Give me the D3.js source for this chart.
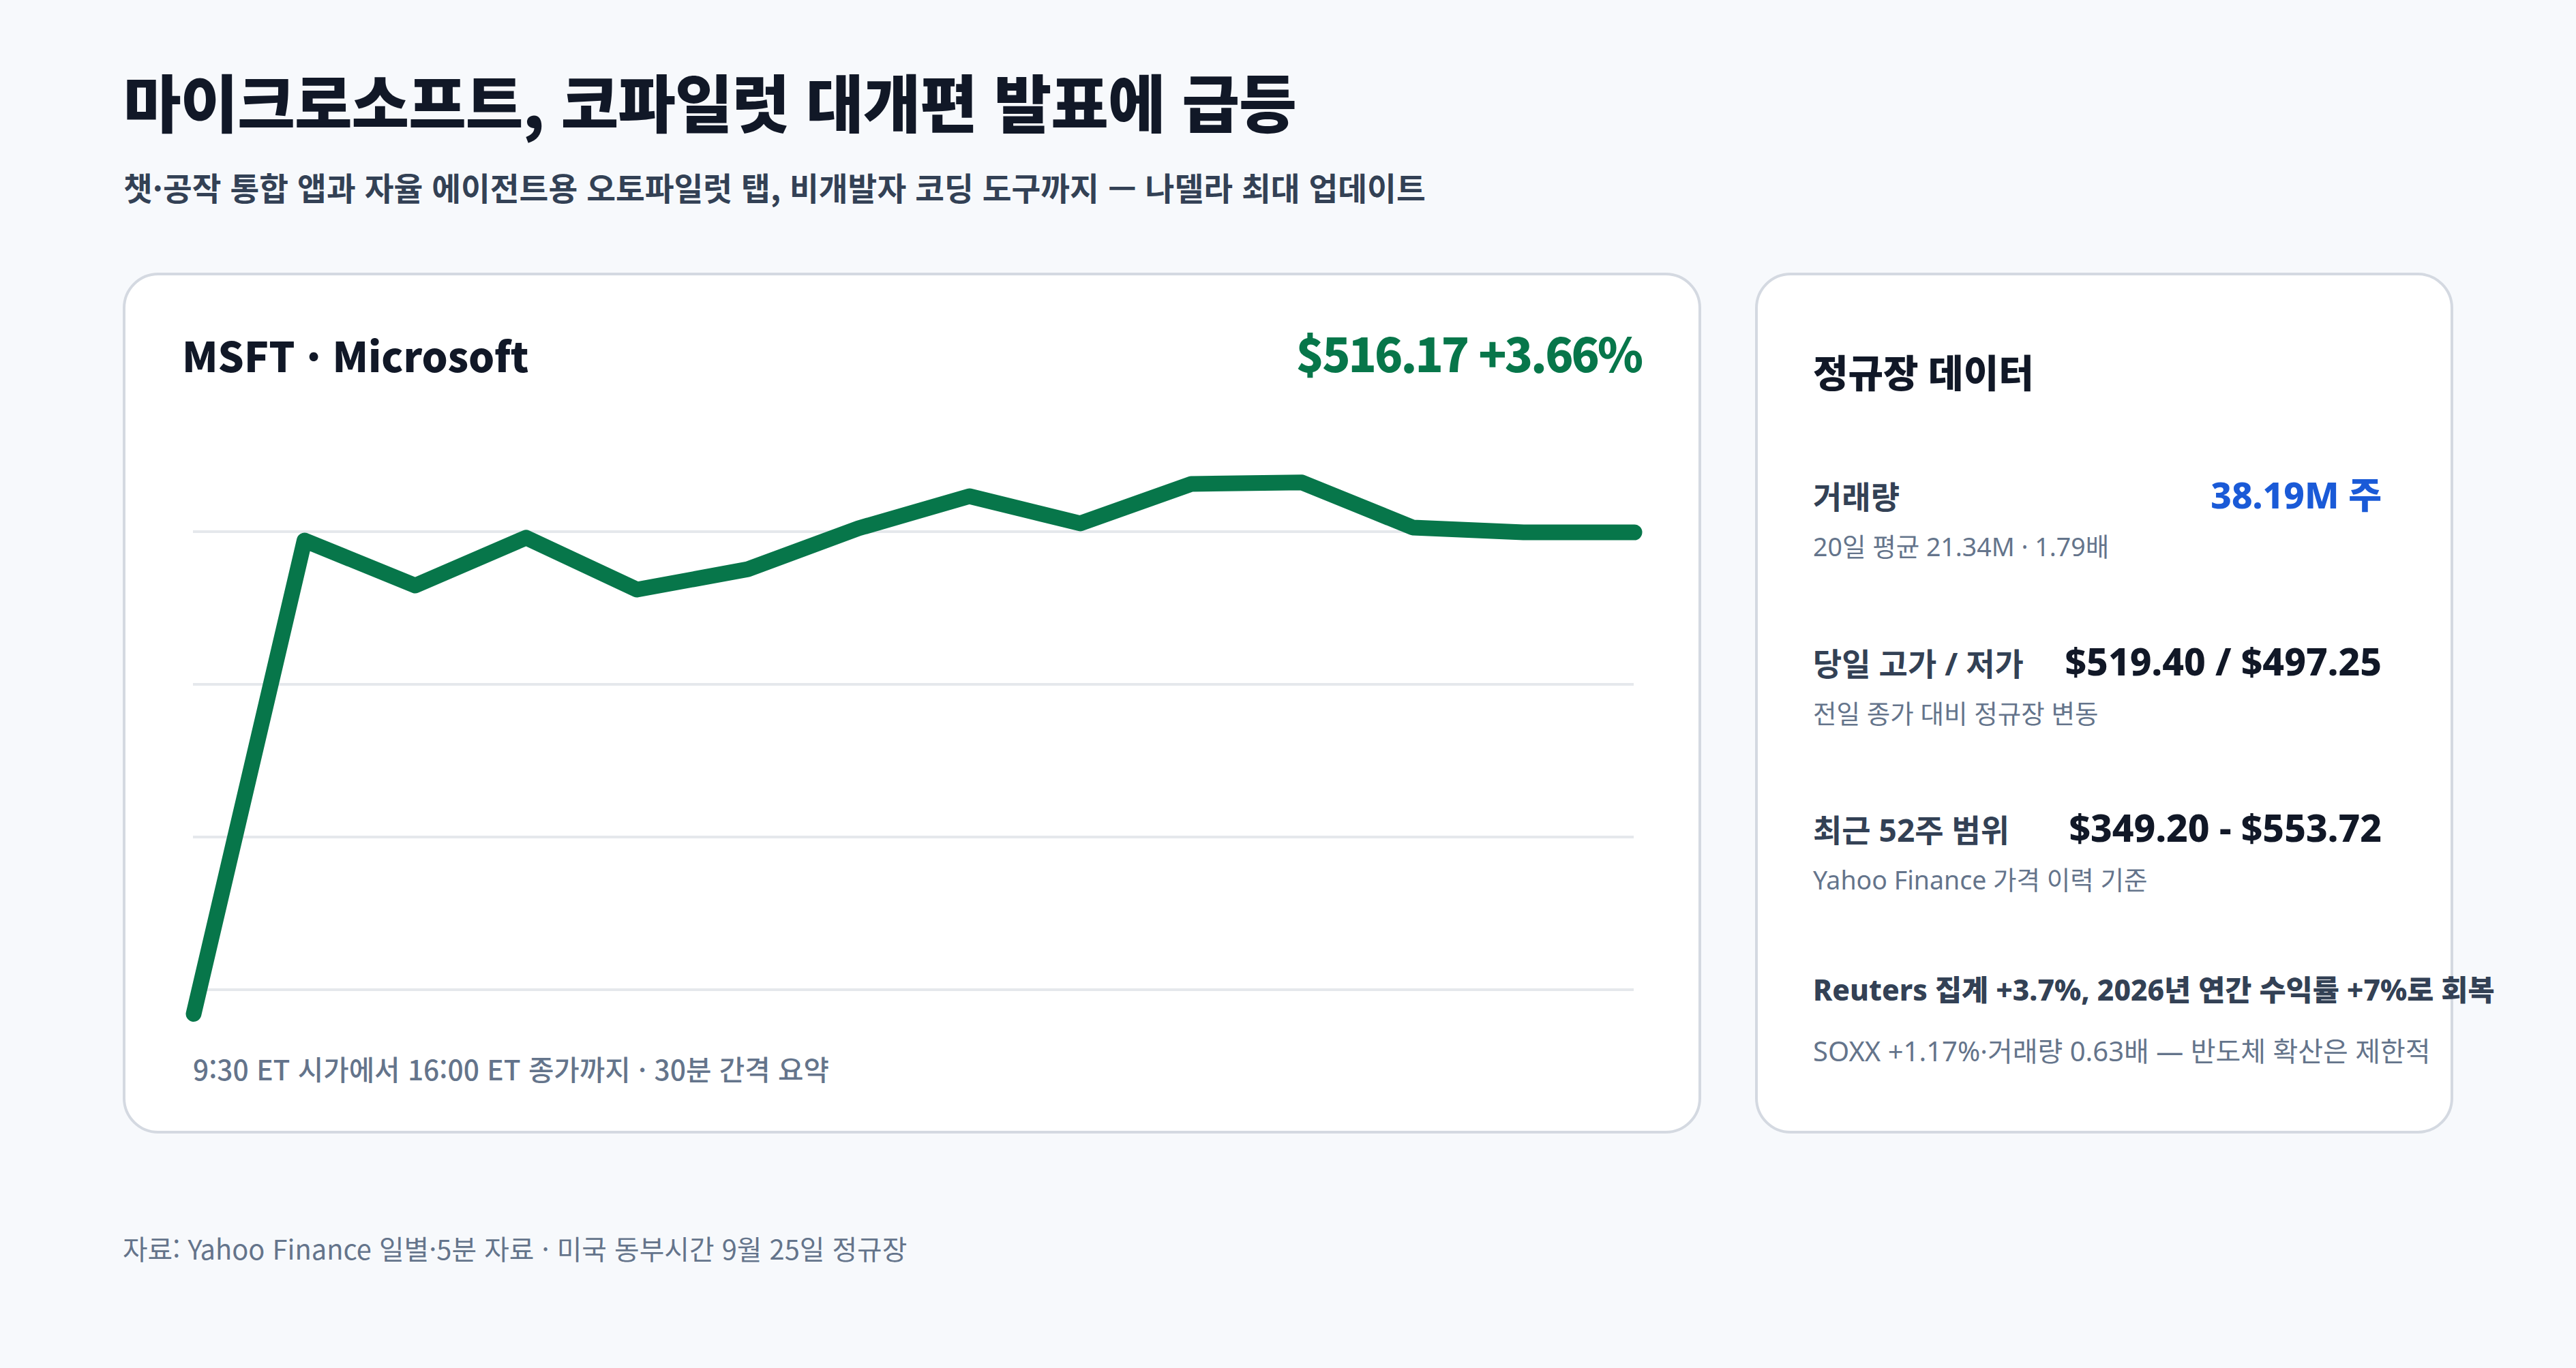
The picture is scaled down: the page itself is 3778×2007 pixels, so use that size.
<!DOCTYPE html>
<html lang="ko">
<head>
<meta charset="utf-8">
<title>MSFT 정규장</title>
<script src="https://cdn.jsdelivr.net/npm/d3@7/dist/d3.min.js"></script>
<style>
  html, body { margin: 0; padding: 0; background: #f7f9fc; }
  svg { display: block; }
</style>
</head>
<body>
<svg id="chart"></svg>
<script>
// ---- data -------------------------------------------------------------
const times  = [ '9:30', '10:00', '10:30', '11:00', '11:30', '12:00', '12:30',
                 '13:00', '13:30', '14:00', '14:30', '15:00', '15:30', '16:00' ];
const prices = [ 497.25, 515.85, 514.08, 515.96, 513.92, 514.72, 516.33,
                 517.59, 516.52, 518.07, 518.13, 516.36, 516.17, 516.17 ];
const gridValues = [ 498.2, 504.2, 510.2, 516.2 ];

const statLabels = [ '거래량', '당일 고가 / 저가', '최근 52주 범위' ];
const statValues = [ '38.19M 주', '$519.40 / $497.25', '$349.20 - $553.72' ];
const statNotes  = [ '20일 평균 21.34M · 1.79배', '전일 종가 대비 정규장 변동', 'Yahoo Finance 가격 이력 기준' ];

const titleText    = '마이크로소프트, 코파일럿 대개편 발표에 급등';
const subtitleText = '챗·공작 통합 앱과 자율 에이전트용 오토파일럿 탭, 비개발자 코딩 도구까지 — 나델라 최대 업데이트';
const tickerText   = 'MSFT · Microsoft';
const priceText    = '$516.17 +3.66%';
const captionText  = '9:30 ET 시가에서 16:00 ET 종가까지 · 30분 간격 요약';
const panelTitle   = '정규장 데이터';
const reutersText  = 'Reuters 집계 +3.7%, 2026년 연간 수익률 +7%로 회복';
const soxxText     = 'SOXX +1.17%·거래량 0.63배 — 반도체 확산은 제한적';
const sourceText   = '자료: Yahoo Finance 일별·5분 자료 · 미국 동부시간 9월 25일 정규장';

// ---- layout -----------------------------------------------------------
const W = 3778, H = 2007;
const KR = "'Noto Sans CJK KR', 'Noto Sans', sans-serif";
const PANEL = "'Noto Sans', 'Noto Sans CJK KR', sans-serif";
const green = '#07764a';

const svg = d3.select('#chart').attr('width', W).attr('height', H);
svg.append('rect').attr('width', W).attr('height', H).attr('fill', '#f7f9fc');

// headline
svg.append('text')
  .attr('x', 181).attr('y', 187)
  .attr('font-family', KR).attr('font-size', 92).attr('font-weight', 900)
  .attr('letter-spacing', -1)
  .attr('fill', '#111827')
  .text(titleText);

svg.append('text')
  .attr('x', 181).attr('y', 294)
  .attr('font-family', KR).attr('font-size', 46.5).attr('font-weight', 600)
  .attr('fill', '#334155')
  .text(subtitleText);

// cards
const cards = [
  { x: 182,  y: 402, w: 2311, h: 1259 },
  { x: 2576, y: 402, w: 1020, h: 1259 }
];
svg.selectAll('rect.card').data(cards).enter().append('rect')
  .attr('class', 'card')
  .attr('x', d => d.x).attr('y', d => d.y)
  .attr('width', d => d.w).attr('height', d => d.h)
  .attr('rx', 50).attr('ry', 50)
  .attr('fill', '#ffffff')
  .attr('stroke', '#d4d9e1').attr('stroke-width', 4);

// ---- line chart -------------------------------------------------------
const x = d3.scalePoint().domain(times).range([284, 2397]);
const y = d3.scaleLinear().domain([497.25, 516.17]).range([1487.5, 781]);

const plot = svg.append('g');

plot.selectAll('line.grid').data(gridValues).enter().append('line')
  .attr('class', 'grid')
  .attr('x1', 283).attr('x2', 2396)
  .attr('y1', d => y(d)).attr('y2', d => y(d))
  .attr('stroke', '#e5e8ec').attr('stroke-width', 4);

const line = d3.line()
  .x((d, i) => x(times[i]))
  .y(d => y(d));

plot.append('path')
  .datum(prices)
  .attr('d', line)
  .attr('fill', 'none')
  .attr('stroke', green)
  .attr('stroke-width', 23)
  .attr('stroke-linejoin', 'round')
  .attr('stroke-linecap', 'round');

svg.append('text')
  .attr('x', 267).attr('y', 546)
  .attr('font-family', KR).attr('font-size', 60).attr('font-weight', 900)
  .attr('fill', '#111827')
  .text(tickerText);

svg.append('text')
  .attr('x', 2407).attr('y', 546)
  .attr('text-anchor', 'end')
  .attr('font-family', KR).attr('font-size', 68).attr('font-weight', 900)
  .attr('letter-spacing', -3)
  .attr('fill', green)
  .text(priceText);

svg.append('text')
  .attr('x', 283).attr('y', 1585)
  .attr('font-family', KR).attr('font-size', 40.7).attr('font-weight', 500)
  .attr('fill', '#64748b')
  .text(captionText);

// ---- side panel -------------------------------------------------------
const px = 2659, pr = 3493;

svg.append('text')
  .attr('x', px).attr('y', 568)
  .attr('font-family', PANEL).attr('font-size', 56).attr('font-weight', 900)
  .attr('fill', '#111827')
  .text(panelTitle);

const rows = svg.selectAll('g.stat').data(statLabels).enter().append('g')
  .attr('class', 'stat')
  .attr('transform', (d, i) => `translate(0, ${746 + i * 244.5})`);

rows.append('text')
  .attr('x', px).attr('y', 0)
  .attr('font-family', PANEL).attr('font-size', 46).attr('font-weight', 700)
  .attr('fill', '#334155')
  .text(d => d);

rows.append('text')
  .attr('x', pr).attr('y', 0)
  .attr('text-anchor', 'end')
  .attr('font-family', PANEL).attr('font-size', (d, i) => i === 0 ? 53 : 55).attr('font-weight', 800)
  .attr('fill', (d, i) => i === 0 ? '#1a5ad7' : '#111827')
  .text((d, i) => statValues[i]);

rows.append('text')
  .attr('x', px).attr('y', 70)
  .attr('font-family', PANEL).attr('font-size', 37.5).attr('font-weight', 400)
  .attr('fill', '#64748b')
  .text((d, i) => statNotes[i]);

svg.append('text')
  .attr('x', px).attr('y', 1468)
  .attr('font-family', PANEL).attr('font-size', 42.5).attr('font-weight', 800)
  .attr('fill', '#334155')
  .text(reutersText);

svg.append('text')
  .attr('x', px).attr('y', 1557)
  .attr('font-family', PANEL).attr('font-size', 40).attr('font-weight', 400)
  .attr('fill', '#64748b')
  .text(soxxText);

// ---- footer -----------------------------------------------------------
svg.append('text')
  .attr('x', 180).attr('y', 1848)
  .attr('font-family', KR).attr('font-size', 39.8).attr('font-weight', 400)
  .attr('fill', '#64748b')
  .text(sourceText);
</script>
</body>
</html>
